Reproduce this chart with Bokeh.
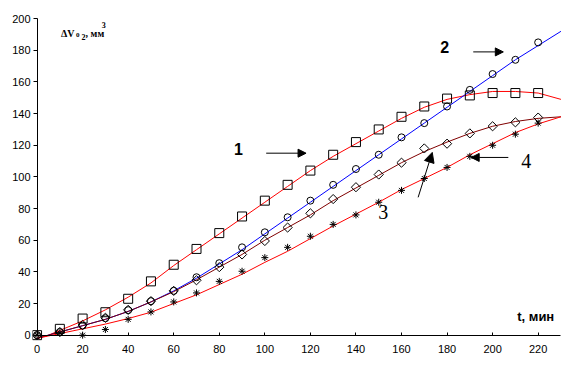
import math
from bokeh.plotting import figure
from bokeh.models import Range1d, LinearAxis, FixedTicker, Label, Arrow, NormalHead
from bokeh.embed import file_html
from bokeh.resources import INLINE

# ---- data ----
t_pts = [0, 10, 20, 30, 40, 50, 60, 70, 80, 90, 100, 110, 120, 130, 140, 150, 160, 170, 180, 190, 200, 210, 220]
s1_pts = [0, 4, 10.5, 14.5, 23, 34, 44.5, 54.5, 64.5, 75, 85, 95, 104, 114, 122, 130, 138, 144.5, 149.5, 151.5, 153, 153, 153]
s2_pts = [0, 2, 6, 10.7, 15.8, 21.5, 28, 36.6, 45.5, 55.5, 65, 74.5, 85, 95, 105, 114, 125, 134, 144.5, 155, 165, 174, 185]
s3_pts = [0, 2, 6.5, 11, 16, 21.5, 28, 34.7, 43, 51, 59.5, 68, 77, 86, 93.5, 101.5, 109, 118, 121, 127.5, 132, 134.5, 137.5]
s4_pts = [0, 1.5, 0, 3.6, 10, 14.7, 21, 26.7, 34, 40.4, 49, 55.5, 62.5, 70, 76, 84, 91.5, 99, 106, 113, 120, 127, 134]

t_line = [0, 5, 10, 20, 30, 40, 50, 60, 70, 80, 90, 100, 110, 120, 130, 140, 150, 160, 170, 180, 190, 200, 210, 220, 230]
s1_line = [-2, 0, 3, 9, 16, 24, 33, 44, 54, 64, 74, 84, 94, 104, 113, 121, 129, 137, 144, 149, 152, 154, 154, 153, 149]
s2_line = [-2, 0, 2, 6, 10, 15, 21, 28, 36, 45, 54, 64, 74, 84, 94, 104, 114, 124, 134, 144, 154, 164, 174, 183, 192]
s3_line = [-2, 0, 2, 6, 10, 15, 21, 27.5, 35, 43, 51, 60, 68, 76, 85, 93, 101, 109, 116, 122, 127.5, 132, 135, 137, 138]
s4_line = [-2, -0.5, 1, 4, 7, 10.5, 14.5, 20, 25.5, 32, 38.5, 46, 53, 61, 69, 76.5, 84, 92, 99, 106, 114, 121, 128, 133.5, 138]

x_ticks = [0, 20, 40, 60, 80, 100, 120, 140, 160, 180, 200, 220]
y_ticks = [0, 20, 40, 60, 80, 100, 120, 140, 160, 180, 200]

curve_labels = ["1", "2", "3", "4"]
label_pos = [(86.5, 117.4), (177, 182.3), (149.8, 77.6), (212.6, 109.8)]
arrows = [((100.6, 115), (118.1, 115), 8),
          ((191.5, 179), (204.7, 179), 8),
          ((167.3, 87.1), (173.5, 115.5), 10),
          ((206.9, 112.3), (190.6, 112.3), 8)]

# y-axis title pieces: text, x, baseline y (data units), font size
title_parts = [("ΔV", 10.5, 190.4, "10px"), ("0", 17.1, 189.7, "7px"), ("2", 19.5, 188.3, "8px"),
               (", мм", 21.3, 190.5, "10px"), ("3", 28.4, 196.1, "8px")]

# ---- figure ----
p = figure(width=581, height=381, output_backend="svg", toolbar_location=None,
           x_range=Range1d(-2, 232), y_range=Range1d(-4, 202),
           x_axis_location=None, y_axis_location=None,
           min_border_left=32, min_border_right=16, min_border_top=15, min_border_bottom=40)
p.grid.visible = False
p.outline_line_color = None
p.background_fill_color = "white"
p.border_fill_color = "white"

# axis lines + ticks drawn at the zero lines
xa = LinearAxis(fixed_location=0, bounds=(0, 230), ticker=FixedTicker(ticks=x_ticks))
ya = LinearAxis(fixed_location=0, bounds=(0, 200), ticker=FixedTicker(ticks=y_ticks))
# tick labels in the side panels
xl = LinearAxis(ticker=FixedTicker(ticks=x_ticks))
yl = LinearAxis(ticker=FixedTicker(ticks=y_ticks))
for ax in (xa, ya, xl, yl):
    ax.axis_line_color = "black"
    ax.axis_line_width = 1
    ax.major_tick_line_color = "black"
    ax.minor_tick_line_color = None
    ax.major_label_text_font = "Liberation Sans"
    ax.major_label_text_font_size = "11px"
    ax.major_label_text_color = "black"
for ax in (xa, ya):
    ax.major_label_text_color = None
for ax in (xl, yl):
    ax.axis_line_color = None
    ax.major_tick_line_color = None
    ax.major_tick_in = 0
    ax.major_tick_out = 0
xa.major_tick_in = 3
xa.major_tick_out = 0
ya.major_tick_in = 0
ya.major_tick_out = 4
xl.major_label_standoff = 3
yl.major_label_standoff = 2
p.add_layout(xa, "below")
p.add_layout(ya, "left")
p.add_layout(xl, "below")
p.add_layout(yl, "left")

p.line(t_line, s1_line, line_color="#FF0000", line_width=1)
p.line(t_line, s2_line, line_color="#0000FF", line_width=1)
p.line(t_line, s3_line, line_color="#800000", line_width=1)
p.line(t_line, s4_line, line_color="#FF0000", line_width=1)

p.scatter(t_pts, s1_pts, marker="square", size=9, fill_color=None, line_color="black", line_width=1)
p.scatter(t_pts, s2_pts, marker="circle", size=7, fill_color=None, line_color="black", line_width=1)
p.scatter(t_pts, s3_pts, marker="square", angle=math.pi / 4, size=6.5, fill_color=None,
          line_color="black", line_width=1)
p.scatter(t_pts, s4_pts, marker="asterisk", size=7, line_color="black", line_width=1)

# curve numbers
for i, (txt, (lx, ly)) in enumerate(zip(curve_labels, label_pos)):
    if i < 2:
        font, size, style = "Liberation Sans", "16px", "bold"
    else:
        font, size, style = "Liberation Serif", "20px", "normal"
    p.add_layout(Label(x=lx, y=ly, text=txt, text_font=font, text_font_size=size,
                       text_font_style=style, text_color="black", text_baseline="alphabetic"))

for (x0, y0), (x1, y1), hs in arrows:
    p.add_layout(Arrow(x_start=x0, y_start=y0, x_end=x1, y_end=y1, line_color="black", line_width=1,
                       end=NormalHead(size=hs, fill_color="black", line_color="black")))

# axis titles
p.add_layout(Label(x=210.8, y=12.0, text="t, мин", text_font="Liberation Sans", text_font_size="13px",
                   text_font_style="bold", text_color="black", text_baseline="alphabetic"))
for txt, tx, ty, fs in title_parts:
    p.add_layout(Label(x=tx, y=ty, text=txt, text_font="Liberation Serif", text_font_size=fs,
                       text_font_style="bold", text_color="black", text_baseline="alphabetic"))

open("out.html", "w").write(file_html(p, INLINE))
